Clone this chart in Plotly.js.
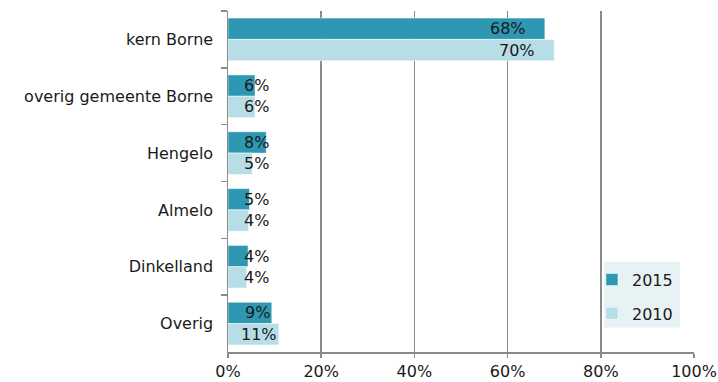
<!DOCTYPE html>
<html><head><meta charset="utf-8">
<script src="https://cdn.plot.ly/plotly-3.0.1.min.js"></script>
<style>html,body{margin:0;padding:0;background:#fff}#chart{width:718px;height:382px}</style>
</head><body><div id="chart"></div>
<script>
const categories = ["kern Borne", "overig gemeente Borne", "Hengelo", "Almelo", "Dinkelland", "Overig"];
const values2015 = [0.68, 0.058, 0.082, 0.046, 0.043, 0.094];
const values2010 = [0.70, 0.058, 0.052, 0.044, 0.040, 0.109];
const labels2015 = ["68%", "6%", "8%", "5%", "4%", "9%"];
const labels2010 = ["70%", "6%", "5%", "4%", "4%", "11%"];
const seriesNames = ["2015", "2010"];
const xTickVals = [0, 0.2, 0.4, 0.6, 0.8, 1.0];
const xTickText = ["0%", "20%", "40%", "60%", "80%", "100%"];

const FONT = "DejaVu Sans, Verdana, sans-serif";
const TXT = "#1a1a1a";
const GRID = "#8a8a8a";
const BARGAP = 0.25;
const PLOT_W = 718 - 228 - 24;

const common = {type: "bar", orientation: "h", y: categories, hoverinfo: "skip"};
const data = [
  Object.assign({}, common, {name: seriesNames[0], x: values2015, legendgroup: "a",
    marker: {color: "#2E98B3", line: {color: "#ffffff", width: 0.5}}}),
  Object.assign({}, common, {name: seriesNames[1], x: values2010, legendgroup: "b",
    marker: {color: "#B7DDE6", line: {color: "#ffffff", width: 0.5}}})
];

// data labels: inside end for long bars, a minimum position for short ones (as the reference)
const annotations = [];
const half = (1 - BARGAP) / 4;
const minRight = 43 / PLOT_W;
[[values2015, labels2015, -half], [values2010, labels2010, half]].forEach(([vals, labs, off]) => {
  vals.forEach((v, i) => {
    const big = v * PLOT_W > 80;
    annotations.push({
      x: big ? v : Math.max(v, minRight), y: i + off, xref: "x", yref: "y",
      xanchor: "right", yanchor: "middle", xshift: big ? -17 : 0,
      text: labs[i], showarrow: false,
      font: {family: FONT, size: 16, color: TXT}
    });
  });
});

const layout = {
  width: 718, height: 382,
  margin: {l: 228, r: 24, t: 11, b: 30, pad: 0},
  paper_bgcolor: "#ffffff", plot_bgcolor: "#ffffff",
  font: {family: FONT, size: 16, color: TXT},
  barmode: "group", bargap: BARGAP, bargroupgap: 0,
  showlegend: true,
  legend: {x: 0.781, y: 0.262, xanchor: "left", yanchor: "top", bgcolor: "rgba(0,0,0,0)",
    font: {family: FONT, size: 16, color: TXT}, traceorder: "grouped", tracegroupgap: 10,
    itemwidth: 30},
  shapes: [{type: "rect", xref: "paper", yref: "paper", x0: 0.807, x1: 0.970, y0: 0.072, y1: 0.265,
    fillcolor: "#E6F2F4", line: {width: 0}, layer: "above"}],
  annotations: annotations,
  xaxis: {range: [0, 1], tickvals: xTickVals, ticktext: xTickText,
    showgrid: true, gridcolor: GRID, gridwidth: 1.5, zeroline: false,
    showline: true, linecolor: GRID, linewidth: 1.5,
    ticks: "outside", ticklen: 4, tickcolor: GRID, tickwidth: 1.5,
    tickfont: {family: FONT, size: 16, color: TXT}, fixedrange: true},
  yaxis: {autorange: "reversed", type: "category",
    showline: true, linecolor: GRID, linewidth: 1.5,
    ticks: "outside", tickson: "boundaries", ticklen: 6, tickcolor: GRID, tickwidth: 1.5,
    showgrid: false, ticksuffix: "  ",
    tickfont: {family: FONT, size: 16, color: TXT}, fixedrange: true}
};
Plotly.newPlot("chart", data, layout, {displayModeBar: false, staticPlot: true});
</script></body></html>
